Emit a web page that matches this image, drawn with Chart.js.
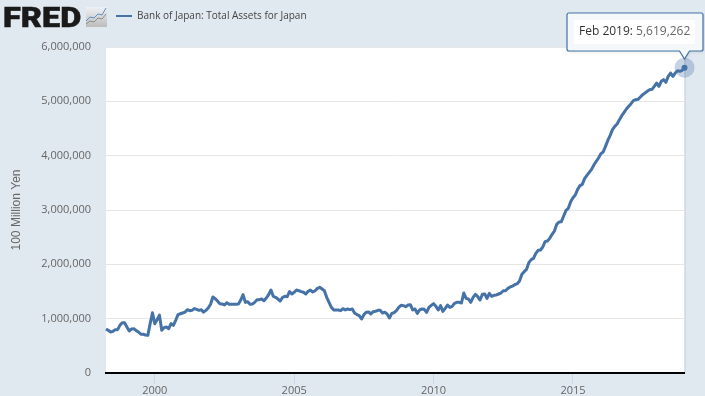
<!DOCTYPE html>
<html>
<head>
<meta charset="utf-8">
<style>html,body{margin:0;padding:0;background:#e1e9f0}canvas{display:block}</style>
<script src="https://cdn.jsdelivr.net/npm/chart.js@4"></script>
</head>
<body>
<canvas id="c" width="705" height="396"></canvas>
<script>
const seriesName = "Bank of Japan: Total Assets for Japan";
const axisTitle = "100 Million Yen";
const startYear = 1998, startMonth = 3; // first value: Apr 1998 (monthly)
const xTickYears = [2000, 2005, 2010, 2015];
const yTicks = [0, 1000000, 2000000, 3000000, 4000000, 5000000, 6000000];
const tooltipDate = "Feb 2019:";
const tooltipValue = "5,619,262";
const values1998to2003 = [
  810,785,755,767,798,798,877,926,925,847,773,810,816,780,755,712,712,700,693,908,
  1110,908,980,1065,785,835,847,816,908,877,970,1075,1090,1105,1120,1165,1147,1153,1185,1170,
  1153,1165,1120,1153,1196,1264,1400,1368,1325,1276,1270
];
const values2002to2006 = [
  1252,1294,1264,1264,1264,1264,1270,1343,1442,1300,1313,1264,1270,1300,1350,1350,1362,1331,1380,1442,
  1527,1411,1393,1362,1325,1393,1411,1405,1497,1454,1485,1527,1515,1497,1485,1454,1503,1527,1491,1515,
  1558,1577,1546,1515,1393,1300,1209,1160,1160
];
const values2006to2012 = [
  1160,1147,1184,1160,1178,1166,1178,1104,1074,1055,994,1074,1117,1123,1086,1129,1135,1153,1153,1104,
  1117,1086,1012,1098,1110,1147,1208,1245,1239,1221,1251,1258,1160,1178,1098,1160,1178,1172,1117,1208,
  1245,1276,1227,1160,1239,1135,1190,1251,1208,1227,1282,1300,1300,1288,1472,1374,1362,1300,1393,1448,
  1405,1343,1448,1454,1374,1466,1411,1430,1436,1454,1472,1515,1515,1558,1583,1601,1626,1644,1693
];
const values2013to2019 = [
  1816,1865,1908,2031,2086,2110,2202,2258,2264,2319,2417,2429,2478,2552,2613,2736,2779,2785,2890,2994,
  3031,3153,3227,3276,3380,3448,3472,3577,3638,3693,3748,3828,3896,3957,4037,4067,4172,4282,4374,4478,
  4540,4583,4663,4736,4798,4859,4908,4957,5012,5031,5037,5080,5123,5153,5184,5215,5221,5276,5337,5276,
  5368,5399,5350,5460,5521,5460,5521,5564,5552,5570,5619.262
];
const assets = [...values1998to2003, ...values2002to2006, ...values2006to2012, ...values2013to2019]
  .map(v => Math.round(v * 1000));
const points = assets.map((y, i) => ({ x: startYear + (startMonth + i) / 12, y }));
const lineColor = "#4572a7";
const font = "'Open Sans'";

const decor = {
  id: "decor",
  beforeDraw(chart) {
    const { ctx, chartArea: a } = chart;
    ctx.save();
    ctx.fillStyle = "#e1e9f0";
    ctx.fillRect(0, 0, chart.width, chart.height);
    ctx.fillStyle = "#fff";
    ctx.fillRect(a.left, a.top, a.right - a.left, a.bottom - a.top);
    ctx.fillStyle = "#c8ced6";
    ctx.fillRect(a.right, a.top, 1, a.bottom - a.top);
    ctx.restore();
  },
  afterLayout(chart) {
    chart.legend.left = 106;
    chart.legend.top = 1;
  },
  beforeDatasetsDraw(chart) {
    const { ctx } = chart;
    const el = chart.getDatasetMeta(0).data[assets.length - 1];
    ctx.save();
    ctx.fillStyle = "rgba(69,114,167,.3)";
    ctx.beginPath();
    ctx.arc(el.x, el.y, 10, 0, Math.PI * 2);
    ctx.fill();
    ctx.restore();
  },
  afterDraw(chart) {
    const { ctx } = chart;
    const el = chart.getDatasetMeta(0).data[assets.length - 1];
    ctx.save();
    // logo
    ctx.save();
    ctx.fillStyle = "#1a1a1a";
    ctx.strokeStyle = "#1a1a1a";
    ctx.lineWidth = 0.5;
    ctx.font = "900 27.3px Roboto";
    ctx.textBaseline = "alphabetic";
    ctx.textAlign = "left";
    ctx.translate(3, 26.8);
    ctx.scale(1.19, 1);
    ctx.fillText("FRED", 0, 0);
    ctx.strokeText("FRED", 0, 0);
    ctx.restore();
    const g = ctx.createLinearGradient(0, 7, 0, 27);
    g.addColorStop(0, "#eef1f4");
    g.addColorStop(1, "#bcbcbc");
    ctx.fillStyle = g;
    ctx.fillRect(86, 7, 21, 20);
    ctx.lineWidth = 1;
    ctx.strokeStyle = "#8a8a8a";
    ctx.beginPath();
    [[86, 24], [90, 21], [94, 22], [98, 18], [102, 19], [106, 14]].forEach((p, i) => i ? ctx.lineTo(...p) : ctx.moveTo(...p));
    ctx.stroke();
    ctx.strokeStyle = "#5f8fc4";
    ctx.beginPath();
    [[86, 21], [90, 17], [94, 18], [98, 14], [102, 15], [106, 8]].forEach((p, i) => i ? ctx.lineTo(...p) : ctx.moveTo(...p));
    ctx.stroke();
    // tooltip
    const bx = 567, by = 13, bw = 136, bh = 38;
    const tipY = el.y - 8.5;
    ctx.shadowColor = "rgba(0,0,0,.12)";
    ctx.shadowBlur = 3;
    ctx.shadowOffsetX = 1;
    ctx.shadowOffsetY = 1;
    ctx.fillStyle = "#f5f8fb";
    ctx.strokeStyle = lineColor;
    ctx.lineWidth = 1.2;
    ctx.beginPath();
    ctx.moveTo(bx + 2, by);
    ctx.lineTo(bx + bw - 2, by);
    ctx.quadraticCurveTo(bx + bw, by, bx + bw, by + 2);
    ctx.lineTo(bx + bw, by + bh - 2);
    ctx.quadraticCurveTo(bx + bw, by + bh, bx + bw - 2, by + bh);
    ctx.lineTo(el.x + 5, by + bh);
    ctx.lineTo(el.x, tipY);
    ctx.lineTo(el.x - 5, by + bh);
    ctx.lineTo(bx + 2, by + bh);
    ctx.quadraticCurveTo(bx, by + bh, bx, by + bh - 2);
    ctx.lineTo(bx, by + 2);
    ctx.quadraticCurveTo(bx, by, bx + 2, by);
    ctx.closePath();
    ctx.fill();
    ctx.shadowColor = "transparent";
    ctx.stroke();
    ctx.fillStyle = "#fff";
    ctx.fillRect(574, 20, 121, 24);
    ctx.textBaseline = "middle";
    ctx.font = "12px " + font;
    ctx.fillStyle = "#333";
    ctx.fillText(tooltipDate, 579, 32);
    const w = ctx.measureText(tooltipDate + " ").width;
    ctx.fillStyle = "#666";
    ctx.fillText(tooltipValue, 579 + w, 32);
    ctx.restore();
  }
};

new Chart(document.getElementById("c"), {
  type: "line",
  data: {
    datasets: [{
      label: seriesName,
      data: points,
      borderColor: lineColor,
      backgroundColor: lineColor,
      borderWidth: 3,
      borderJoinStyle: "round",
      tension: 0,
      clip: false,
      pointRadius: c => (c.dataIndex === assets.length - 1 ? 3 : 0),
      pointBackgroundColor: lineColor,
      pointBorderColor: lineColor,
      pointBorderWidth: c => (c.dataIndex === assets.length - 1 ? 0 : 2)
    }]
  },
  options: {
    responsive: false,
    animation: false,
    events: [],
    layout: { padding: { left: 0, right: 20.5, top: 17, bottom: 0 } },
    plugins: {
      tooltip: { enabled: false },
      legend: {
        display: true,
        position: "top",
        align: "start",
        labels: {
          usePointStyle: true,
          pointStyle: "line",
          pointStyleWidth: 16,
          boxHeight: 8,
          padding: 10,
          color: "#444",
          font: { family: font, size: 10 }
        }
      }
    },
    scales: {
      x: {
        type: "linear",
        min: points[0].x,
        max: points[points.length - 1].x,
        afterBuildTicks: s => { s.ticks = xTickYears.map(value => ({ value })); },
        afterFit: s => { s.height = 23; },
        border: { color: "#000", width: 2 },
        grid: { drawOnChartArea: false, drawTicks: true, tickLength: 11, color: "#ccd6eb", tickWidth: 1 },
        ticks: {
          maxRotation: 0,
          padding: 0,
          color: "#666",
          font: { family: font, size: 11 },
          callback: v => String(v)
        }
      },
      y: {
        min: 0,
        max: 6000000,
        afterBuildTicks: s => { s.ticks = yTicks.map(value => ({ value })); },
        afterFit: s => { s.width = 106; },
        border: { display: false },
        grid: { drawTicks: false, color: "#e6e6e6", lineWidth: 1 },
        ticks: {
          padding: 15,
          color: "#666",
          font: { family: font, size: 11 },
          callback: v => v.toLocaleString("en-US")
        },
        title: {
          display: true,
          text: axisTitle,
          color: "#666",
          font: { family: "'Liberation Sans'", size: 12 },
          padding: { top: 9, bottom: 0 }
        }
      }
    }
  },
  plugins: [decor]
});
</script>
</body>
</html>
